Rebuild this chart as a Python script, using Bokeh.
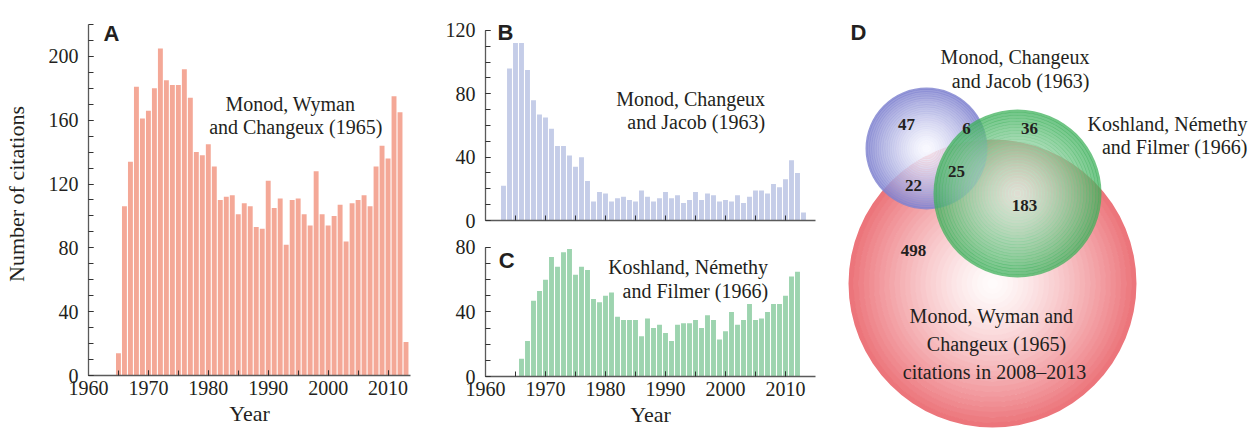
from bokeh.plotting import figure
from bokeh.models import Range1d, FixedTicker, Label
from bokeh.layouts import row, column
from bokeh.core.properties import value
from bokeh.embed import file_html
from bokeh.resources import INLINE

# ---------------- data ----------------
years_a = list(range(1965, 2014))
cites_a = [14, 106, 134, 181, 161, 166, 180, 205, 185, 182, 182, 192, 174, 140, 138,
           145, 131, 110, 112, 113, 101, 108, 106, 93, 92, 122, 105, 111, 82, 110,
           111, 101, 94, 128, 101, 94, 100, 107, 84, 108, 110, 113, 106, 131, 144,
           136, 175, 165, 21]

years_b = list(range(1963, 2014))
cites_b = [22, 96, 112, 112, 95, 76, 67, 65, 58, 47, 47, 41, 34, 40, 25, 12, 18, 17,
           12, 14, 15, 13, 12, 19, 15, 12, 14, 18, 14, 16, 11, 13, 18, 13, 17, 16,
           12, 13, 12, 16, 11, 15, 19, 19, 17, 23, 21, 26, 38, 30, 5]

years_c = list(range(1966, 2013))
cites_c = [11, 22, 47, 53, 60, 74, 68, 77, 79, 63, 68, 66, 48, 46, 50, 52, 37, 35,
           35, 35, 25, 36, 30, 32, 27, 22, 32, 33, 33, 35, 30, 38, 35, 23, 28, 40,
           32, 35, 45, 35, 36, 40, 45, 45, 50, 62, 65]

x_ticks = [1960, 1970, 1980, 1990, 2000, 2010]
x_minor = [1965, 1970, 1975, 1980, 1985, 1990, 1995, 2000, 2005, 2010]

# Venn diagram (panel D): overlap counts
venn_counts = ["47", "6", "36", "25", "22", "183", "498"]
venn_count_x = [906, 966, 1029, 956, 913, 1024, 913]
venn_count_y = [124, 128, 128, 171, 185, 205, 250]
venn_names = ["MWC", "MCJ", "KNF"]
venn_cx = [992, 926, 1017]
venn_cy = [283, 148, 193]
venn_r = [144, 61, 84]

SERIF = "Liberation Serif"
SANS = "Liberation Sans"
TXT = "#231F20"
AXC = "#5a5a5a"


def style(p, yticks, yminor, ybounds, xticks=x_ticks, ylab=None, xlab=None):
    p.xgrid.grid_line_color = None
    p.ygrid.grid_line_color = None
    p.outline_line_color = None
    p.background_fill_color = "white"
    p.border_fill_color = "white"
    for ax in (p.xaxis[0], p.yaxis[0]):
        ax.axis_line_color = AXC
        ax.axis_line_width = 1.3
        ax.major_tick_line_color = "#333333"
        ax.minor_tick_line_color = "#333333"
        ax.major_tick_in = 5
        ax.major_tick_out = 0
        ax.minor_tick_in = 5
        ax.minor_tick_out = 0
        ax.major_label_text_font = SERIF
        ax.major_label_text_font_size = "20px"
        ax.major_label_text_color = TXT
        ax.axis_label_text_font = SERIF
        ax.axis_label_text_font_size = "22px"
        ax.axis_label_text_font_style = "normal"
        ax.axis_label_text_color = TXT
    p.xaxis[0].ticker = FixedTicker(ticks=xticks, minor_ticks=x_minor)
    p.yaxis[0].ticker = FixedTicker(ticks=yticks, minor_ticks=yminor)
    p.yaxis[0].bounds = ybounds
    p.xaxis[0].major_label_standoff = 5
    p.xaxis[0].axis_label_standoff = 3
    p.yaxis[0].major_label_standoff = 10
    p.yaxis[0].axis_label_standoff = 17
    p.frame_align = False
    if ylab:
        p.yaxis[0].axis_label = ylab
    if xlab:
        p.xaxis[0].axis_label = xlab


def note(p, x, y, text, align="center", size="20px", font=SERIF, style_="normal"):
    p.add_layout(Label(x=x, y=y, text=text, text_align=align,
                       text_baseline="alphabetic", text_font=font,
                       text_font_size=size, text_font_style=style_,
                       text_color=TXT))


# ---------------- panel A ----------------
pa = figure(width=438, height=429, output_backend="svg", toolbar_location=None,
            x_range=Range1d(1960, 2013.75), y_range=Range1d(0, 227.5),
            min_border_left=87, min_border_right=28, min_border_top=12,
            min_border_bottom=54)
pa.vbar(x=years_a, top=cites_a, width=0.82, fill_color="#F4A897", line_color=None)
style(pa, [0, 40, 80, 120, 160, 200], list(range(0, 221, 10)), (0, 220),
      ylab="Number of citations", xlab="Year")
note(pa, 1962.5, 214.5, "A", align="left", size="22px", font=SANS, style_="bold")
note(pa, 1993.7, 169.9, "Monod, Wyman")
note(pa, 1994.6, 155.5, "and Changeux (1965)")

# ---------------- panel B ----------------
pb = figure(width=400, height=232, output_backend="svg", toolbar_location=None,
            x_range=Range1d(1960, 2015), y_range=Range1d(0, 130.7),
            min_border_left=47, min_border_right=23, min_border_top=13,
            min_border_bottom=12)
pb.vbar(x=years_b, top=cites_b, width=0.82, fill_color="#C5CDE8", line_color=None)
style(pb, [0, 40, 80, 120], list(range(0, 121, 10)), (0, 120), xticks=[])
note(pb, 1962.0, 118.8, "B", align="left", size="22px", font=SANS, style_="bold")
note(pb, 2006.6, 76.9, "Monod, Changeux", align="right")
note(pb, 2006.6, 62.1, "and Jacob (1963)", align="right")

# ---------------- panel C ----------------
pc = figure(width=400, height=197, output_backend="svg", toolbar_location=None,
            x_range=Range1d(1960, 2015), y_range=Range1d(0, 84.3),
            min_border_left=47, min_border_right=23, min_border_top=8,
            min_border_bottom=53)
pc.vbar(x=years_c, top=cites_c, width=0.82, fill_color="#9DD4AF", line_color=None)
style(pc, [0, 40, 80], list(range(0, 81, 10)), (0, 80), xlab="Year")
note(pc, 1962.2, 71.9, "C", align="left", size="22px", font=SANS, style_="bold")
note(pc, 2007.1, 67.8, "Koshland, Némethy", align="right")
note(pc, 2007.1, 52.9, "and Filmer (1966)", align="right")

# ---------------- panel D (Venn) ----------------
pd_ = figure(width=413, height=429, output_backend="svg", toolbar_location=None,
             x_range=Range1d(838, 1251), y_range=Range1d(429, 0),
             x_axis_type=None, y_axis_type=None,
             min_border=0)
pd_.xgrid.grid_line_color = None
pd_.ygrid.grid_line_color = None
pd_.outline_line_color = None
pd_.frame_align = False

edge_cols = {"MWC": (236, 114, 120), "MCJ": (124, 127, 206), "KNF": (58, 176, 88)}
mid_cols = {"MWC": (255, 252, 252), "MCJ": (248, 248, 255), "KNF": (215, 238, 222)}
alphas = {"MWC": 1.0, "MCJ": 0.82, "KNF": 0.74}
N = 28
for name, cx, cy, r in zip(venn_names, venn_cx, venn_cy, venn_r):
    e = edge_cols[name]
    m = mid_cols[name]
    inner, outer, cols = [], [], []
    for i in range(N):
        r0 = r * i / N
        r1 = r * (i + 1) / N
        t = ((i + 0.5) / N) ** 1.35
        c = tuple(int(round(m[k] + (e[k] - m[k]) * t)) for k in range(3))
        inner.append(r0)
        outer.append(r1 + 0.6 if i < N - 1 else r1)
        cols.append("#%02x%02x%02x" % c)
    pd_.annulus(x=[cx] * N, y=[cy] * N, inner_radius=inner, outer_radius=outer,
                fill_color=cols, fill_alpha=alphas[name], line_color=None)

pd_.text(x=venn_count_x, y=venn_count_y, text=venn_counts, text_align="center",
         text_baseline="middle", text_font=value(SERIF), text_font_size="17px",
         text_font_style="bold", text_color=TXT)

note(pd_, 850, 32, "D", align="left", size="22px", font=SANS, style_="bold")
note(pd_, 1089, 56.7, "Monod, Changeux", align="right")
note(pd_, 1089, 80, "and Jacob (1963)", align="right")
note(pd_, 1247, 123.3, "Koshland, Némethy", align="right")
note(pd_, 1247, 146.7, "and Filmer (1966)", align="right")
note(pd_, 991, 315, "Monod, Wyman and")
note(pd_, 996, 343, "Changeux (1965)")
note(pd_, 994, 371.7, "citations in 2008–2013")

layout = row(pa, column(pb, pc), pd_)
open("out.html", "w").write(file_html(layout, INLINE))
